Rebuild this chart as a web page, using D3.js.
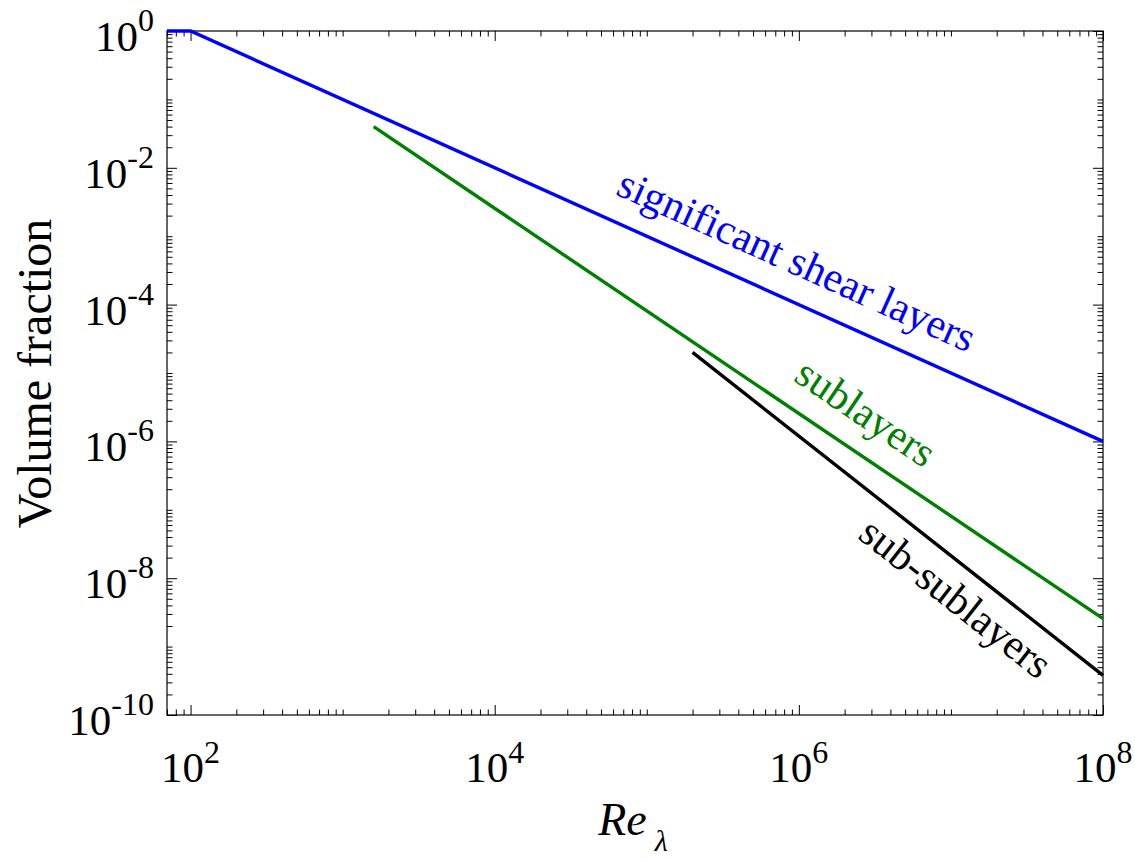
<!DOCTYPE html>
<html lang="en">
<head>
  <meta charset="UTF-8">
  <title>Volume fraction vs Re_lambda</title>
  <script src="https://d3js.org/d3.v7.min.js"></script>
  <style>
    * { margin: 0; padding: 0; box-sizing: border-box; }
    body { background: white; font-family: "Liberation Serif", "Times New Roman", serif; }
    svg text { font-family: "Liberation Serif", "Times New Roman", serif; }
  </style>
</head>
<body>
  <div id="chart"></div>

  <script>
    // data (straight lines on log-log axes -> endpoints)
    const shearRe = [70, 100, 1e8];
    const shearVf = [1, 1, 1e-6];
    const subRe = [1600, 1e8];
    const subVf = [0.04, 2.56e-9];
    const subsubRe = [2e5, 1e8];
    const subsubVf = [2e-5, 3.8e-10];

    const xMajorExp = [2, 4, 6, 8];
    const yMajorExp = [0, -2, -4, -6, -8, -10];

    const seriesNames = ["significant shear layers", "sublayers", "sub-sublayers"];
    const seriesColors = ["#0000ff", "#008000", "#000000"];
    // where each label starts (Re, Vf)
    const labelRe = [61400, 906000, 2.39e6];
    const labelVf = [0.00414, 7.9e-6, 3.94e-8];

    const margin = {top: 31, right: 32, bottom: 146, left: 167},
          width = 1135 - margin.left - margin.right,
          height = 861 - margin.top - margin.bottom;

    const svg = d3.select("#chart")
                  .append("svg")
                  .attr("width", 1135)
                  .attr("height", 861)
                  .append("g")
                  .attr("transform", `translate(${margin.left},${margin.top})`);

    const x = d3.scaleLog().domain([70, 1e8]).range([0, width]);
    const y = d3.scaleLog().domain([1e-10, 1]).range([height, 0]);

    // minor ticks: 1..9 x 10^k inside the domain
    function minorTicks(scale) {
      const [a, b] = scale.domain();
      const out = [];
      for (let k = Math.floor(Math.log10(a)); k <= Math.ceil(Math.log10(b)); k++) {
        for (let m = 1; m <= 9; m++) {
          const v = m * Math.pow(10, k);
          if (v >= a * 0.999 && v <= b * 1.001) out.push(v);
        }
      }
      return out;
    }
    const xMajor = xMajorExp.map(e => Math.pow(10, e));
    const yMajor = yMajorExp.map(e => Math.pow(10, e));
    const xMinor = minorTicks(x).filter(v => !xMajor.some(m => Math.abs(m - v) / m < 1e-6));
    const yMinor = minorTicks(y).filter(v => !yMajor.some(m => Math.abs(m - v) / m < 1e-6));

    function styleAxis(g) {
      g.selectAll("line").attr("stroke", "#000").attr("stroke-width", 1);
      g.selectAll(".domain").remove();
      g.selectAll("text").remove();
    }

    // ticks on all four sides, pointing inward
    const axes = [
      [d3.axisBottom(x), `translate(0,${height})`, xMajor, xMinor],
      [d3.axisTop(x), `translate(0,0)`, xMajor, xMinor],
      [d3.axisLeft(y), `translate(0,0)`, yMajor, yMinor],
      [d3.axisRight(y), `translate(${width},0)`, yMajor, yMinor]
    ];
    axes.forEach(([ax, tr, major, minor]) => {
      svg.append("g").attr("transform", tr)
         .call(ax.tickValues(major).tickSize(-10).tickFormat(""))
         .call(styleAxis);
      svg.append("g").attr("transform", tr)
         .call(ax.tickValues(minor).tickSize(-5.5).tickFormat(""))
         .call(styleAxis);
    });

    // frame
    svg.append("rect")
       .attr("width", width)
       .attr("height", height)
       .attr("fill", "none")
       .attr("stroke", "#000")
       .attr("stroke-width", 1.2);

    // tick labels 10^n
    svg.selectAll(".xlab")
       .data(xMajorExp)
       .enter()
       .append("text")
       .attr("x", d => x(Math.pow(10, d)))
       .attr("y", height + 67)
       .attr("text-anchor", "middle")
       .style("font-size", "43px")
       .each(function(d) {
         const t = d3.select(this);
         t.append("tspan").text("10");
         t.append("tspan").attr("dy", -19).style("font-size", "32px").text(d);
       });

    svg.selectAll(".ylab")
       .data(yMajorExp)
       .enter()
       .append("text")
       .attr("x", -13)
       .attr("y", d => y(Math.pow(10, d)) + 20)
       .attr("text-anchor", "end")
       .style("font-size", "43px")
       .each(function(d) {
         const t = d3.select(this);
         t.append("tspan").text("10");
         t.append("tspan").attr("dy", -20).style("font-size", "32px").text(d < 0 ? "-" + (-d) : d);
       });

    // lines
    const line = d3.line().x(d => x(d[0])).y(d => y(d[1]));
    const series = [
      d3.zip(shearRe, shearVf),
      d3.zip(subRe, subVf),
      d3.zip(subsubRe, subsubVf)
    ];
    svg.selectAll(".series")
       .data(series)
       .enter()
       .append("path")
       .attr("d", line)
       .attr("fill", "none")
       .attr("stroke", (d, i) => seriesColors[i])
       .attr("stroke-width", 3.4);

    // rotated labels following each line
    series.forEach((s, i) => {
      const a = s[s.length - 2], b = s[s.length - 1];
      const ang = Math.atan2(y(b[1]) - y(a[1]), x(b[0]) - x(a[0])) * 180 / Math.PI;
      const px = x(labelRe[i]), py = y(labelVf[i]);
      svg.append("text")
         .attr("transform", `translate(${px},${py}) rotate(${ang})`)
         .attr("fill", seriesColors[i])
         .style("font-size", "42px")
         .text(seriesNames[i]);
    });

    // axis titles
    svg.append("text")
       .attr("transform", `translate(${51 - margin.left},${373.5 - margin.top}) rotate(-90)`)
       .attr("text-anchor", "middle")
       .style("font-size", "48px")
       .text("Volume fraction");

    const xt = svg.append("text")
       .attr("x", 633 - margin.left)
       .attr("y", height + 120)
       .attr("text-anchor", "middle")
       .style("font-size", "46px");
    xt.append("tspan").style("font-style", "italic").text("Re");
    xt.append("tspan").attr("dx", 8).attr("dy", 16).style("font-size", "30px").style("font-style", "italic").text("λ");
  </script>
</body>
</html>
